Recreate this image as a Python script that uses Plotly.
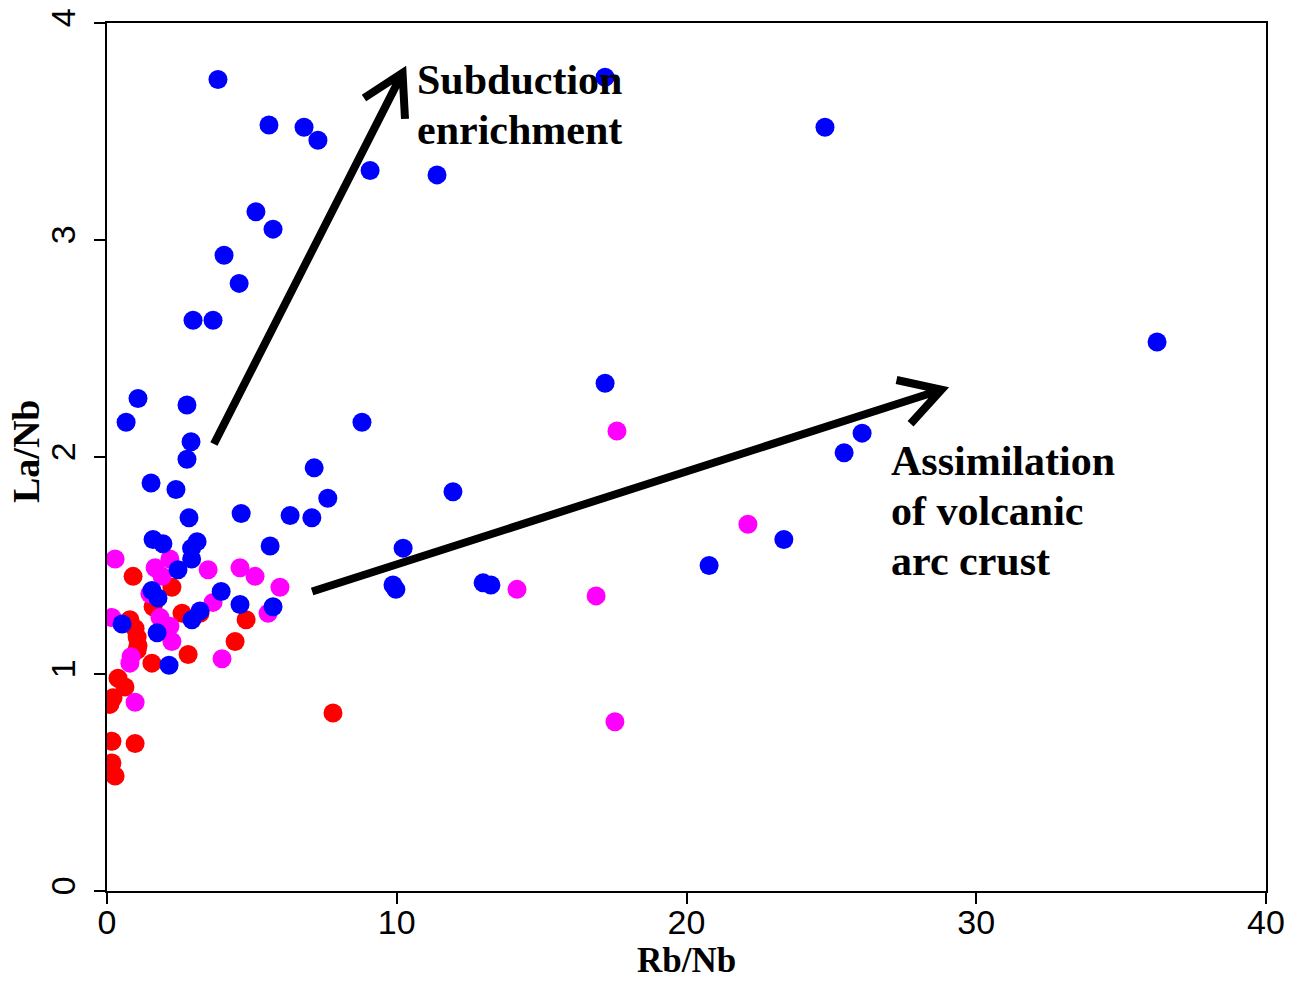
import math
import plotly.graph_objects as go

# ---- data ----
blue_x = [3.83, 17.19, 5.59, 6.80, 7.28, 24.78, 9.08, 11.39, 5.14, 5.73, 4.04, 4.56, 2.97, 3.66,
          36.24, 17.19, 1.07, 2.76, 0.66, 8.80, 2.90, 26.06, 25.44, 2.76, 7.15, 1.52, 2.38, 7.62,
          11.94, 2.83, 4.63, 6.32, 7.07, 5.63, 10.22, 20.78, 23.36, 1.59, 1.93, 3.11, 2.92, 2.92,
          2.45, 9.87, 9.97, 12.98, 13.25, 1.55, 1.76, 3.94, 3.21, 2.93, 4.59, 5.73, 0.52, 1.73, 2.14]
blue_y = [3.74, 3.75, 3.53, 3.52, 3.46, 3.52, 3.32, 3.30, 3.13, 3.05, 2.93, 2.80, 2.63, 2.63,
          2.53, 2.34, 2.27, 2.24, 2.16, 2.16, 2.07, 2.11, 2.02, 1.99, 1.95, 1.88, 1.85, 1.81,
          1.84, 1.72, 1.74, 1.73, 1.72, 1.59, 1.58, 1.50, 1.62, 1.62, 1.60, 1.61, 1.58, 1.53,
          1.48, 1.41, 1.39, 1.42, 1.41, 1.385, 1.35, 1.38, 1.29, 1.25, 1.32, 1.31, 1.23, 1.19, 1.04]

red_x = [0.90, 2.24, 1.59, 2.59, 3.21, 0.79, 0.97, 1.04, 1.07, 1.04, 4.80, 4.42, 2.80, 1.55,
         0.38, 0.62, 0.21, 0.10, 0.17, 0.97, 0.17, 0.28, 7.80]
red_y = [1.45, 1.40, 1.31, 1.28, 1.28, 1.25, 1.21, 1.17, 1.13, 1.11, 1.25, 1.15, 1.09, 1.05,
         0.98, 0.94, 0.89, 0.86, 0.69, 0.68, 0.59, 0.53, 0.82]

mag_x = [0.28, 1.66, 2.17, 3.49, 4.59, 5.11, 5.97, 1.90, 1.48, 3.66, 5.56, 0.17, 1.83, 2.17,
         2.24, 0.79, 0.83, 3.97, 0.97, 17.60, 22.12, 14.15, 16.88, 17.53]
mag_y = [1.53, 1.49, 1.53, 1.48, 1.49, 1.45, 1.40, 1.45, 1.37, 1.33, 1.28, 1.26, 1.26, 1.22,
         1.15, 1.05, 1.08, 1.07, 0.87, 2.12, 1.69, 1.39, 1.36, 0.78]

x_ticks = [0, 10, 20, 30, 40]
y_ticks = [0, 1, 2, 3, 4]

# arrows: (start_x, start_y, end_x, end_y) in data units
arrow1 = (3.69, 2.06, 10.2, 3.77)
arrow2 = (7.08, 1.38, 28.8, 2.31)

# label lines: (text, left x, centre y) in data units
sub_lines = [("Subduction", 10.62, 3.737), ("enrichment", 10.62, 3.507)]
ass_lines = [("Assimilation", 26.98, 1.982), ("of volcanic", 26.98, 1.751), ("arc crust", 26.98, 1.521)]

# ---- layout geometry ----
W, H = 1301, 982
ML, MR, MT, MB = 107, 35, 23, 91
XR = (0, 40)
YR = (0, 4)
pw = W - ML - MR
ph = H - MT - MB
sx = pw / (XR[1] - XR[0])
sy = ph / (YR[1] - YR[0])

fig = go.Figure()
for xs, ys, col in [(red_x, red_y, "#ff0000"), (mag_x, mag_y, "#ff00ff"), (blue_x, blue_y, "#0000ff")]:
    fig.add_trace(go.Scatter(x=xs, y=ys, mode="markers",
                             marker=dict(color=col, size=19, line=dict(width=0)),
                             showlegend=False, hoverinfo="x+y"))


def arrow_path(a, head_len=46, ang=30):
    x0, y0, x1, y1 = a
    dx = (x1 - x0) * sx
    dy = (y1 - y0) * sy
    L = math.hypot(dx, dy)
    ux, uy = dx / L, dy / L
    pts = []
    for s in (1, -1):
        t = math.radians(ang) * s
        rx = ux * math.cos(t) - uy * math.sin(t)
        ry = ux * math.sin(t) + uy * math.cos(t)
        pts.append((x1 - head_len * rx / sx, y1 - head_len * ry / sy))
    return (f"M {x0},{y0} L {x1},{y1} "
            f"M {pts[0][0]},{pts[0][1]} L {x1},{y1} L {pts[1][0]},{pts[1][1]}")


for a in (arrow1, arrow2):
    fig.add_shape(type="path", path=arrow_path(a), xref="x", yref="y",
                  line=dict(color="black", width=8))

serif = "Liberation Serif"
for txt, lx, cy in sub_lines + ass_lines:
    fig.add_annotation(x=lx, y=cy, xref="x", yref="y", xanchor="left", yanchor="middle",
                       text=f"<b>{txt}</b>", showarrow=False, align="left",
                       font=dict(family=serif, size=42, color="black"))

# axis titles
fig.add_annotation(x=(686 - ML) / pw, y=-(961 - (H - MB)) / ph, xref="paper", yref="paper",
                   xanchor="center", yanchor="middle", showarrow=False,
                   text="<b>Rb/Nb</b>", font=dict(family=serif, size=35, color="black"))
fig.add_annotation(x=(26 - ML) / pw, y=((H - MB) - 452) / ph, xref="paper", yref="paper",
                   xanchor="center", yanchor="middle", showarrow=False, textangle=-90,
                   text="<b>La/Nb</b>", font=dict(family=serif, size=38, color="black"))

axis_common = dict(showline=True, linecolor="black", linewidth=1.5, mirror=True,
                   ticks="outside", ticklen=11, tickwidth=1.5, tickcolor="black",
                   showgrid=False, zeroline=False,
                   tickfont=dict(family="Liberation Sans", size=34, color="black"))

fig.update_xaxes(range=list(XR), tickvals=x_ticks, ticktext=[str(v) for v in x_ticks],
                 ticklabelstandoff=-11, **axis_common)
fig.update_yaxes(range=list(YR), tickvals=y_ticks, ticktext=[str(v) for v in y_ticks], tickangle=-90,
                 ticklabelstandoff=6, **axis_common)

fig.update_layout(width=W, height=H, margin=dict(l=ML, r=MR, t=MT, b=MB, autoexpand=False),
                  plot_bgcolor="white", paper_bgcolor="white")

fig.write_html("out.html")
